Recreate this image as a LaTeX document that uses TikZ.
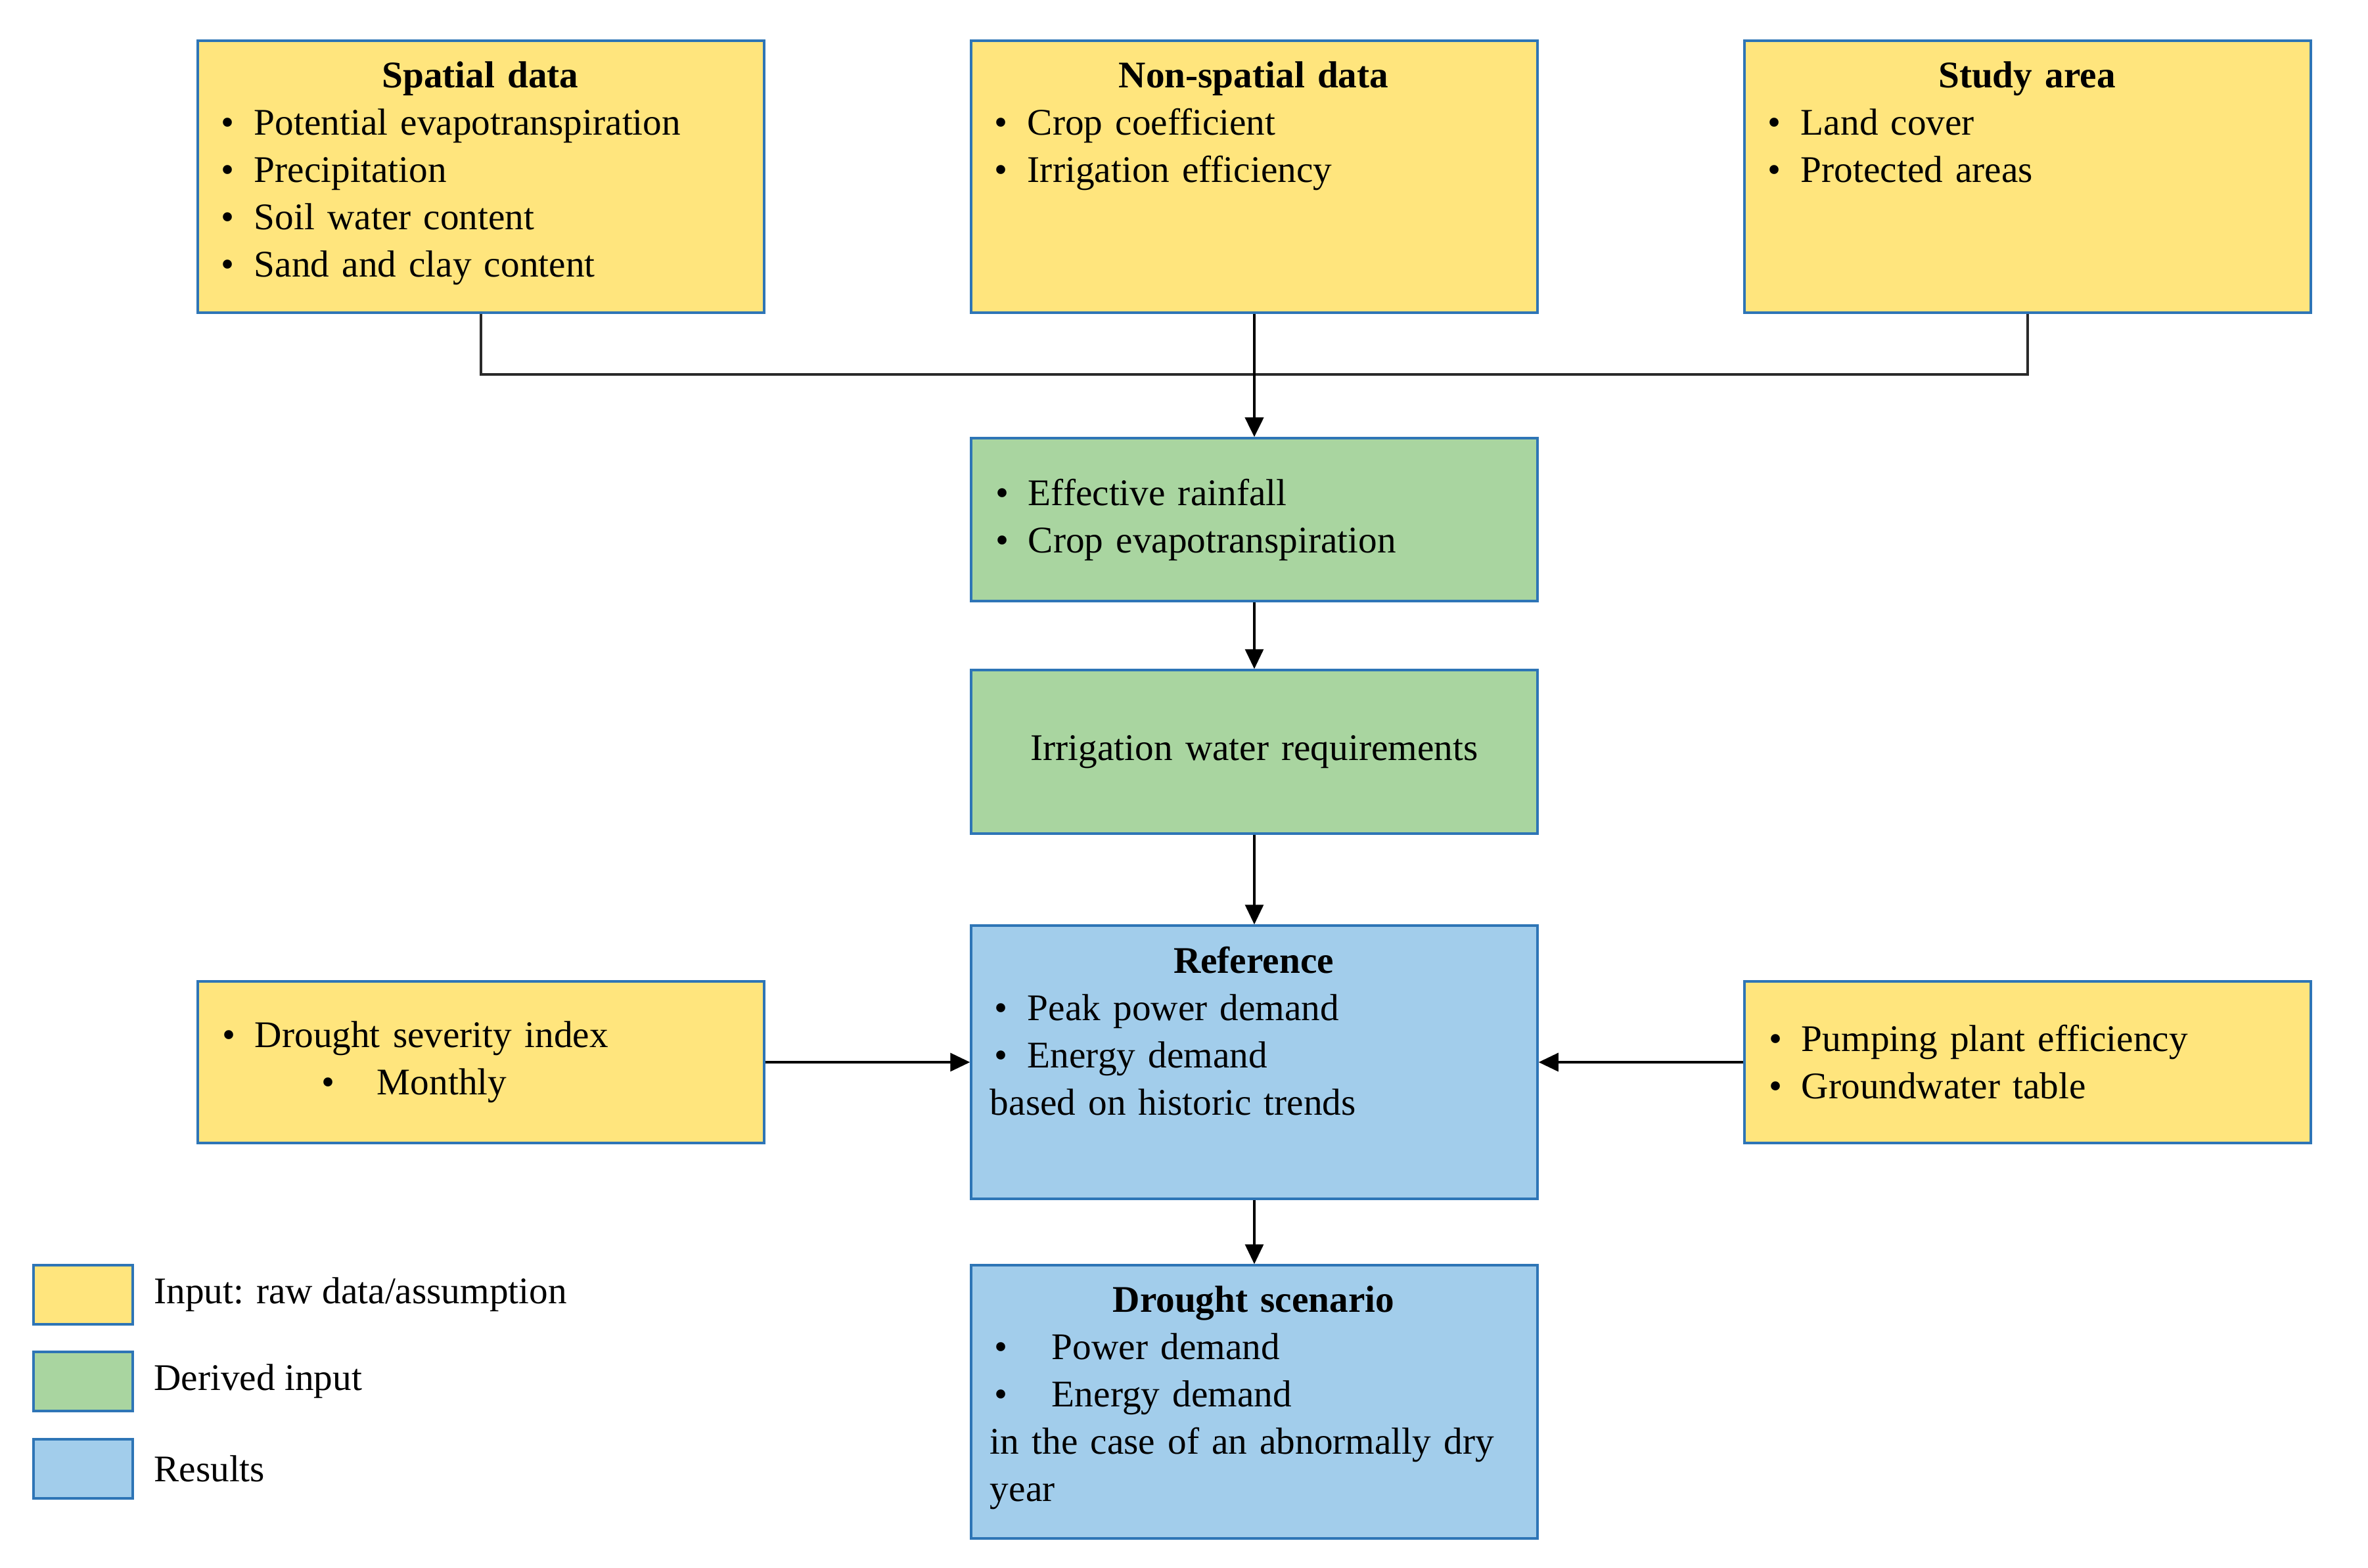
\documentclass[tikz,border=0pt]{standalone}
\usepackage{fontspec}
\setmainfont{Liberation Serif}
\usetikzlibrary{positioning,arrows.meta}
\definecolor{inyel}{HTML}{FFE57D}
\definecolor{dergrn}{HTML}{A9D5A0}
\definecolor{resblu}{HTML}{A2CDEB}
\definecolor{edgeblu}{HTML}{2E75B6}
\definecolor{lnk}{HTML}{2A2A2A}
\newcommand{\itm}[2][0.5cm]{\hspace*{0.07cm}\makebox[#1][l]{\textbullet}#2}
\newcommand{\ttl}[1]{\makebox[8.02cm]{\textbf{#1}}}

\begin{document}
\begin{tikzpicture}[x=1cm,y=1cm,
  box/.style={draw=edgeblu, line width=1pt, minimum width=8.62cm, inner sep=0pt},
  txt/.style={text width=8.02cm, align=left, inner sep=0pt,
    font=\fontsize{16.3}{20.5}\selectfont},
  cbox/.style={box, txt, inner xsep=0.3cm},
  flow/.style={-{Triangle[length=0.3cm,width=0.28cm]}, line width=0.9pt},
  link/.style={draw=lnk, line width=1.1pt}]

  \useasboundingbox (0,0) rectangle (36.04,-23.86);

  %% input boxes on top
  \node[box, fill=inyel, minimum height=4.14cm] (sp) at (7.32,-2.69) {};
  \node[box, fill=inyel, minimum height=4.14cm] (ns) at (19.09,-2.69) {};
  \node[box, fill=inyel, minimum height=4.14cm] (st) at (30.86,-2.69) {};

  \node[txt, below right=0.33cm and 0.3cm of sp.north west] (sptxt)
    {\ttl{Spatial data}\\ \itm{Potential evapotranspiration}\\ \itm{Precipitation}\\
     \itm{Soil water content}\\ \itm{Sand and clay content}};
  \node[txt, below right=0.33cm and 0.3cm of ns.north west] (nstxt)
    {\ttl{Non-spatial data}\\ \itm{Crop coefficient}\\ \itm{Irrigation efficiency}};
  \node[txt, below right=0.33cm and 0.3cm of st.north west] (sttxt)
    {\ttl{Study area}\\ \itm{Land cover}\\ \itm{Protected areas}};

  %% derived input
  \node[cbox, fill=dergrn, minimum height=2.48cm] (er) at (19.09,-7.91)
    {\itm{Effective rainfall}\\ \itm{Crop evapotranspiration}};
  \node[cbox, fill=dergrn, minimum height=2.49cm, align=center] (iwr) at (19.09,-11.445)
    {Irrigation water requirements};

  %% results and side inputs
  \node[box, fill=resblu, minimum height=4.16cm] (ref) at (19.09,-16.17) {};
  \node[txt, below right=0.33cm and 0.3cm of ref.north west] (reftxt)
    {\ttl{Reference}\\ \itm{Peak power demand}\\ \itm{Energy demand}\\ based on historic trends};
  \node[cbox, fill=inyel, minimum height=2.46cm] (dsi) at (7.32,-16.17)
    {\itm{Drought severity index}\\ \hspace*{1.58cm}\makebox[0.85cm][l]{\textbullet}Monthly};
  \node[cbox, fill=inyel, minimum height=2.46cm] (pp) at (30.86,-16.17)
    {\itm{Pumping plant efficiency}\\ \itm{Groundwater table}};

  \node[box, fill=resblu, minimum height=4.16cm] (ds) at (19.09,-21.34) {};
  \node[txt, below right=0.33cm and 0.3cm of ds.north west] (dstxt)
    {\ttl{Drought scenario}\\ \itm[0.87cm]{Power demand}\\ \itm[0.87cm]{Energy demand}\\
     in the case of an abnormally dry\\ year};

  %% legend
  \node[box, fill=inyel, minimum width=1.51cm, minimum height=0.9cm] (lg1) at (1.265,-19.71) {};
  \node[box, fill=dergrn, minimum width=1.51cm, minimum height=0.9cm] (lg2) at (1.265,-21.03) {};
  \node[box, fill=resblu, minimum width=1.51cm, minimum height=0.9cm] (lg3) at (1.265,-22.36) {};
  \node[txt, text width=, right=0.3cm of lg1] {Input: raw data/assumption};
  \node[txt, text width=, right=0.3cm of lg2] {Derived input};
  \node[txt, text width=, right=0.3cm of lg3] {Results};

  %% connectors
  \coordinate (jn) at (19.09,-5.70);
  \draw[link] (sp.south) |- (jn) -| (st.south);
  \draw[line width=0.9pt] (ns.south) -- (jn);
  \draw[flow, line width=1.4pt] (jn) -- (er.north);
  \draw[flow] (er) -- (iwr);
  \draw[flow] (iwr) -- (ref);
  \draw[flow] (ref) -- (ds);
  \draw[flow] (dsi) -- (ref);
  \draw[flow] (pp) -- (ref);
\end{tikzpicture}
\end{document}
